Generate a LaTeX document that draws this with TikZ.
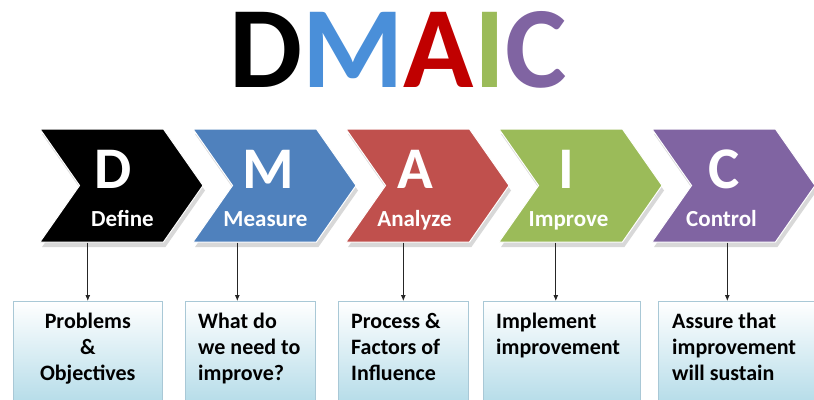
\documentclass[tikz,border=0pt]{standalone}
\usepackage{fontspec}
\setmainfont{Carlito}
\usepackage{tikz}
\usetikzlibrary{arrows.meta,positioning,shapes.symbols,shadows}

\definecolor{titleBlue}{HTML}{4A8FD9}
\definecolor{titleRed}{HTML}{C00000}
\definecolor{stepBlue}{HTML}{4F81BD}
\definecolor{stepRed}{HTML}{C0504D}
\definecolor{stepGreen}{HTML}{9BBB59}
\definecolor{stepPurple}{HTML}{8064A2}
\definecolor{boxLine}{HTML}{A9C8D6}
\definecolor{boxBlue}{HTML}{B3DBE8}

\begin{document}
\begin{tikzpicture}[x=1pt, y=-1pt, >={Latex[length=6pt,width=5pt]},
  chev/.style={signal, signal from=west, signal to=east, signal pointer angle=110,
    minimum width=163pt, minimum height=113pt, inner sep=0pt, draw=white, line width=1pt,
    drop shadow={shadow xshift=2pt, shadow yshift=-5pt, fill=black!30, opacity=0.5}},
  bigletter/.style={text=white, font=\fontsize{59}{59}\selectfont\bfseries, inner sep=0pt},
  stepname/.style={text=white, font=\fontsize{23}{23}\selectfont\bfseries, inner sep=0pt, anchor=base},
  infobox/.style={draw=boxLine, line width=0.6pt, top color=white, bottom color=boxBlue,
    minimum height=105pt, anchor=north west},
  boxtext/.style={font=\fontsize{22}{26}\selectfont\bfseries, inner sep=0pt, anchor=north west, align=left},
  flow/.style={->, draw=black!85, line width=0.8pt}]
\useasboundingbox (0,0) rectangle (814,399);

% title
\node[anchor=base, inner sep=0pt, font=\fontsize{116}{116}\selectfont\bfseries] (title) at (398,87)
  {D\textcolor{titleBlue}{M}\textcolor{titleRed}{A}\textcolor{stepGreen}{I}\textcolor{stepPurple}{C}};

% steps
\node[chev, fill=black] (chevD) at (121.5,185.5) {};
\node[chev, fill=stepBlue] (chevM) at (274.5,185.5) {};
\node[chev, fill=stepRed] (chevA) at (427.5,185.5) {};
\node[chev, fill=stepGreen] (chevI) at (580.5,185.5) {};
\node[chev, fill=stepPurple] (chevC) at (733.5,185.5) {};

\node[bigletter] (letD) at ([xshift=-8pt,yshift=16pt]chevD.center) {D};
\node[bigletter] (letM) at ([xshift=-6pt,yshift=16pt]chevM.center) {M};
\node[bigletter] (letA) at ([xshift=-12pt,yshift=16pt]chevA.center) {A};
\node[bigletter] (letI) at ([xshift=-14pt,yshift=16pt]chevI.center) {I};
\node[bigletter] (letC) at ([xshift=-9pt,yshift=16pt]chevC.center) {C};

\node[stepname] (nameD) at ([xshift=1pt,yshift=-41pt]chevD.center) {Define};
\node[stepname] (nameM) at ([xshift=-9pt,yshift=-41pt]chevM.center) {Measure};
\node[stepname] (nameA) at ([xshift=-13pt,yshift=-41pt]chevA.center) {Analyze};
\node[stepname] (nameI) at ([xshift=-12pt,yshift=-41pt]chevI.center) {Improve};
\node[stepname] (nameC) at ([xshift=-12pt,yshift=-41pt]chevC.center) {Control};

% boxes
\node[infobox, minimum width=149pt] (boxD) at (13,301) {};
\node[infobox, minimum width=130pt] (boxM) at (185,301) {};
\node[infobox, minimum width=130pt] (boxA) at (338,301) {};
\node[infobox, minimum width=157pt] (boxI) at (483,301) {};
\node[infobox, minimum width=158pt] (boxC) at (658,301) {};

\node[boxtext, anchor=north, align=center] (txtD) at ([yshift=-12pt]boxD.north) {Problems\\\&\\Objectives};
\node[boxtext] (txtM) at ([xshift=13pt,yshift=-12pt]boxM.north west) {What do\\we need to\\improve?};
\node[boxtext] (txtA) at ([xshift=13pt,yshift=-12pt]boxA.north west) {Process \&\\Factors of\\Influence};
\node[boxtext] (txtI) at ([xshift=13pt,yshift=-12pt]boxI.north west) {Implement\\improvement};
\node[boxtext] (txtC) at ([xshift=14pt,yshift=-12pt]boxC.north west) {Assure that\\improvement\\will sustain};

% arrows
\draw[flow] (boxD.north |- chevD.south) -- (boxD.north);
\draw[flow] ([xshift=-13pt]boxM.north |- chevM.south) -- ([xshift=-13pt]boxM.north);
\draw[flow] (boxA.north |- chevA.south) -- (boxA.north);
\draw[flow] ([xshift=-6pt]boxI.north |- chevI.south) -- ([xshift=-6pt]boxI.north);
\draw[flow] ([xshift=-10pt]boxC.north |- chevC.south) -- ([xshift=-10pt]boxC.north);
\end{tikzpicture}
\end{document}
